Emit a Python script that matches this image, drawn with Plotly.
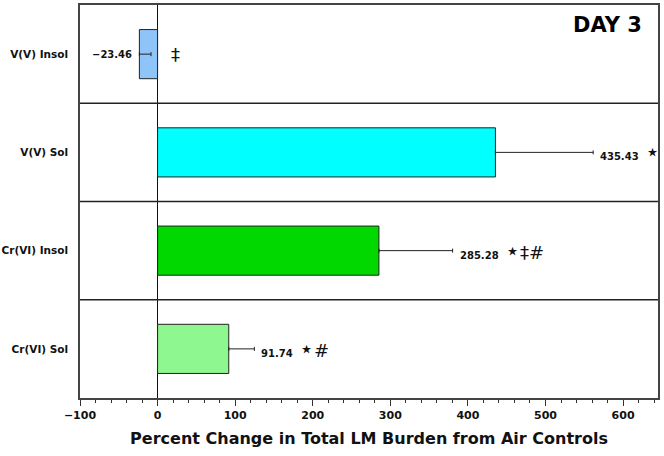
import plotly.graph_objects as go

categories = ["V(V) Insol", "V(V) Sol", "Cr(VI) Insol", "Cr(VI) Sol"]
values = [-23.46, 435.43, 285.28, 91.74]
errors = [15, 126, 95, 33]
value_labels = ["−23.46", "435.43", "285.28", "91.74"]
sig_marks = ["‡", "⋆", "⋆‡#", "⋆#"]
colors = ["#8fc4f8", "#00ffff", "#00d800", "#8ff78f"]

FONT = "DejaVu Sans"


def sig_html(s):
    out = []
    for ch in s:
        if ch == "⋆":
            out.append("<span style='font-size:24px'>%s</span>" % ch)
        else:
            out.append("<span style='font-size:18px'>%s</span>" % ch)
    return "".join(out)


fig = go.Figure()
fig.add_trace(go.Bar(
    y=categories, x=values, orientation="h", width=0.5,
    marker=dict(color=colors, line=dict(color="#222", width=1)),
    error_x=dict(type="data", symmetric=False, array=errors,
                 arrayminus=[0] * len(errors), color="#222", thickness=1, width=2),
    showlegend=False, hoverinfo="skip",
))

annotations = []
for c, v, e, lab, s in zip(categories, values, errors, value_labels, sig_marks):
    if v >= 0:
        annotations.append(dict(
            x=v + e, y=c, xref="x", yref="y", xanchor="left", xshift=5,
            text="<b>%s</b>&nbsp;&nbsp;%s" % (lab, sig_html(s)),
            showarrow=False, font=dict(family=FONT, size=10, color="#111")))
    else:
        annotations.append(dict(
            x=v, y=c, xref="x", yref="y", xanchor="right", xshift=-5,
            text="<b>%s</b>" % lab, showarrow=False,
            font=dict(family=FONT, size=10, color="#111")))
        annotations.append(dict(
            x=0, y=c, xref="x", yref="y", xanchor="left", xshift=11,
            text=sig_html(s), showarrow=False, font=dict(family=FONT, size=18, color="#111")))

annotations.append(dict(
    x=0.975, y=0.985, xref="paper", yref="paper", xanchor="right", yanchor="top",
    text="<b>DAY 3</b>", showarrow=False, font=dict(family=FONT, size=21, color="#000")))

shapes = []
for i in range(len(categories) - 1):
    shapes.append(dict(type="line", xref="paper", x0=0, x1=1, yref="y",
                       y0=i + 0.5, y1=i + 0.5, line=dict(color="#222", width=1.5)))

fig.update_layout(
    width=664, height=456,
    margin=dict(l=80, r=6, t=5, b=58),
    paper_bgcolor="white", plot_bgcolor="white",
    font=dict(family=FONT, color="#111"),
    annotations=annotations, shapes=shapes,
)
fig.update_xaxes(
    range=[-100, 645], tickvals=[-100, 0, 100, 200, 300, 400, 500, 600],
    ticktext=["−100", "0", "100", "200", "300", "400", "500", "600"],
    ticks="outside", ticklen=6, tickcolor="#333", tickwidth=1,
    minor=dict(tick0=-100, dtick=20, ticks="outside", ticklen=3, tickcolor="#333"),
    tickfont=dict(family=FONT, size=11, color="#111", weight="bold"),
    showline=True, linecolor="#444", linewidth=1.5, mirror=True,
    showgrid=False, zeroline=True, zerolinecolor="#111", zerolinewidth=1,
    title=dict(text="<b>Percent Change in Total LM Burden from Air Controls</b>",
               font=dict(family=FONT, size=16, color="#111"), standoff=12),
    automargin=False,
)
fig.update_yaxes(
    categoryorder="array", categoryarray=categories, autorange="reversed",
    tickfont=dict(family=FONT, size=10.5, color="#111", weight="bold"),
    ticks="", ticklabelstandoff=8, automargin=False,
    showline=True, linecolor="#444", linewidth=1.5, mirror=True, showgrid=False,
)

# remove the default 8px body margin so the 664x456 figure fills the window
fig.write_html("out.html", config={"displayModeBar": False},
               post_script="document.body.style.margin='0px';")
